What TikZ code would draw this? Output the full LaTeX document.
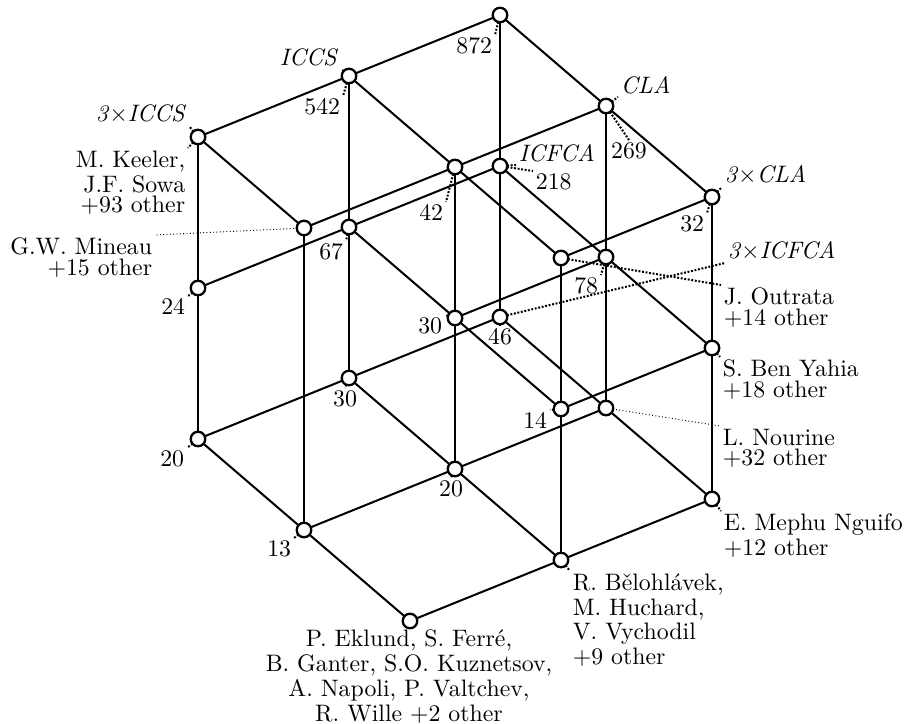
\documentclass[tikz,border=0pt]{standalone}
\usepackage{fontspec}
\usetikzlibrary{backgrounds}
\newcommand\labfontx{\fontsize{10}{0pt}\selectfont\setlength{\lineskip}{1.5pt}\setlength{\lineskiplimit}{0pt}}
\tikzset{
  vtx/.style={circle,draw,fill=white,line width=0.97pt,minimum size=6.1pt,inner sep=0pt},
  edg/.style={line width=0.85pt},
  lab/.style={inner sep=1pt,font=\labfontx},
  ltick/.style={line width=0.85pt,dash pattern=on 0.8pt off 0.7pt},
  lthin/.style={line width=0.4pt,dash pattern=on 0.4pt off 1pt},
}
\begin{document}
\begin{tikzpicture}[x=0.42pt,y=-0.42pt]
\useasboundingbox (0,0) rectangle (916,724);
% vertices
\node[vtx] (n000) at (500,15) {};
\node[vtx] (n100) at (349,76) {};
\node[vtx] (n200) at (198,137) {};
\node[vtx] (n010) at (606,106) {};
\node[vtx] (n020) at (712,197) {};
\node[vtx] (n110) at (455,167) {};
\node[vtx] (n120) at (561,258) {};
\node[vtx] (n210) at (304,228) {};
\node[vtx] (n001) at (500,166) {};
\node[vtx] (n101) at (349,227) {};
\node[vtx] (n201) at (198,288) {};
\node[vtx] (n011) at (606,257) {};
\node[vtx] (n021) at (712,348) {};
\node[vtx] (n111) at (455,318) {};
\node[vtx] (n121) at (561,409) {};
\node[vtx] (n002) at (500,317) {};
\node[vtx] (n102) at (349,378) {};
\node[vtx] (n202) at (198,439) {};
\node[vtx] (n012) at (606,408) {};
\node[vtx] (n022) at (712,499) {};
\node[vtx] (n112) at (455,469) {};
\node[vtx] (n122) at (561,560) {};
\node[vtx] (n212) at (304,530) {};
\node[vtx] (n222) at (410,621) {};
% labels
\node[lab,anchor=north east] (o000) at (495,35) {872};
\node[lab,anchor=south east] (a100) at (341,69) {\textit{ICCS}};
\node[lab,anchor=north east] (o100) at (343,96) {542};
\node[lab,anchor=south east] (a200) at (189,126) {\textit{3}$\times$\textit{ICCS}};
\node[lab,anchor=north east,align=right] (o200) at (188,148) {M. Keeler,\\J.F. Sowa\\+93 other};
\node[lab,anchor=south west] (a001) at (516,165) {\textit{ICFCA}};
\node[lab,anchor=north west] (o001) at (533,171) {218};
\node[lab,anchor=south west] (a010) at (618,97) {\textit{CLA}};
\node[lab,anchor=north] (o010) at (629,140) {269};
\node[lab,anchor=north east] (o110) at (446,202) {42};
\node[lab,anchor=south west] (a020) at (722,187) {\textit{3}$\times$\textit{CLA}};
\node[lab,anchor=north east] (o020) at (707,213) {32};
\node[lab,anchor=north east,align=right] (o210) at (155,235) {G.W. Mineau\\+15 other};
\node[lab,anchor=north east] (o101) at (346,241) {67};
\node[lab,anchor=north east] (o201) at (188,296) {24};
\node[lab,anchor=north west,align=left] (o120) at (721,285) {J. Outrata\\+14 other};
\node[lab,anchor=north east] (o011) at (601,275) {78};
\node[lab,anchor=north east] (o111) at (445,315) {30};
\node[lab,anchor=south west] (a002) at (725,263) {\textit{3}$\times$\textit{ICFCA}};
\node[lab,anchor=north] (o002) at (500,326) {46};
\node[lab,anchor=north west,align=left] (o021) at (720,357) {S. Ben Yahia\\+18 other};
\node[lab,anchor=north] (o102) at (345,388) {30};
\node[lab,anchor=north east] (o121) at (550,410) {14};
\node[lab,anchor=north west,align=left] (o012) at (720,426) {L. Nourine\\+32 other};
\node[lab,anchor=north east] (o202) at (187,448) {20};
\node[lab,anchor=north] (o112) at (451,478) {20};
\node[lab,anchor=north west,align=left] (o022) at (721,511) {E. Mephu Nguifo\\+12 other};
\node[lab,anchor=north east] (o212) at (294,538) {13};
\node[lab,anchor=north west,align=left] (o122) at (570,571) {R. Bělohlávek,\\M. Huchard,\\V. Vychodil\\+9 other};
\node[lab,anchor=north,align=center] (o222) at (409,627) {P. Eklund, S. Ferré,\\B. Ganter, S.O. Kuznetsov,\\A. Napoli, P. Valtchev,\\R. Wille +2 other};
\begin{scope}[on background layer]
% label connectors
\draw[ltick] (n000.center) -- (o000.north east);
\draw[ltick] (n100.center) -- (a100.south east);
\draw[ltick] (n100.center) -- (o100.north east);
\draw[ltick] (n200.center) -- (a200.south east);
\draw[ltick] (n200.center) -- (o200.north east);
\draw[ltick] (n001.center) -- (a001.south west);
\draw[ltick] (n001.center) -- (o001.north west);
\draw[ltick] (n010.center) -- (a010.south west);
\draw[ltick] (n010.center) -- (o010.north);
\draw[ltick] (n110.center) -- (o110.north east);
\draw[ltick] (n020.center) -- (a020.south west);
\draw[ltick] (n020.center) -- (o020.north east);
\draw[lthin] (n210.center) -- (o210.north east);
\draw[ltick] (n101.center) -- (o101.north east);
\draw[ltick] (n201.center) -- (o201.north east);
\draw[ltick] (n120.center) -- (o120.north west);
\draw[ltick] (n011.center) -- (o011.north east);
\draw[ltick] (n111.center) -- (o111.north east);
\draw[ltick] (n002.center) -- (a002.south west);
\draw[ltick] (n002.center) -- (o002.north);
\draw[ltick] (n021.center) -- (o021.north west);
\draw[ltick] (n102.center) -- (o102.north);
\draw[ltick] (n121.center) -- (o121.north east);
\draw[lthin] (n012.center) -- (o012.north west);
\draw[ltick] (n202.center) -- (o202.north east);
\draw[ltick] (n112.center) -- (o112.north);
\draw[ltick] (n022.center) -- (o022.north west);
\draw[ltick] (n212.center) -- (o212.north east);
\draw[ltick] (n122.center) -- (o122.north west);
\draw[ltick] (n222.center) -- (o222.north);
% edges
\foreach \a/\b in {n000/n100,n100/n200,n010/n110,n110/n210,n020/n120,n001/n101,n101/n201,n011/n111,n021/n121,n002/n102,n102/n202,n012/n112,n112/n212,n022/n122,n122/n222,
  n000/n010,n010/n020,n100/n110,n110/n120,n200/n210,n001/n011,n011/n021,n101/n111,n111/n121,n002/n012,n012/n022,n102/n112,n112/n122,n202/n212,n212/n222,
  n000/n001,n001/n002,n100/n101,n101/n102,n200/n201,n201/n202,n010/n011,n011/n012,n020/n021,n021/n022,n110/n111,n111/n112,n120/n121,n121/n122,n210/n212}
  \draw[edg] (\a.center) -- (\b.center);
\end{scope}
\end{tikzpicture}
\end{document}
